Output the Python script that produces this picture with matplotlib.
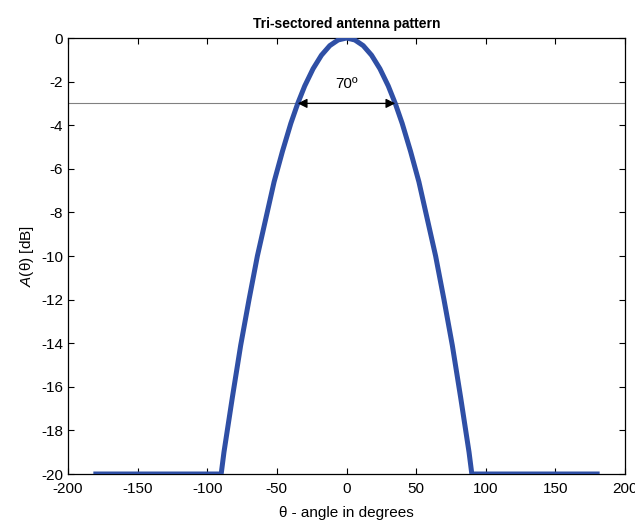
import matplotlib
matplotlib.use("Agg")
import matplotlib.pyplot as plt

plt.rcParams['font.family'] = ['Liberation Sans', 'DejaVu Sans']
plt.rcParams['mathtext.fontset'] = 'custom'
plt.rcParams['mathtext.it'] = 'Liberation Sans:italic'
plt.rcParams['mathtext.rm'] = 'Liberation Sans'
plt.rcParams['axes.unicode_minus'] = False

# Antenna gain samples (degrees, dB)
theta = [-180, -90, -88, -82, -76, -70, -64, -58, -52, -46, -40, -35, -30,
         -24, -18, -12, -6, 0, 6, 12, 18, 24, 30, 35, 40, 46, 52,
         58, 64, 70, 76, 82, 88, 90, 180]
gain = [-20.0, -20.0, -19.0, -16.5, -14.1, -12.0, -10.0, -8.3, -6.6,
        -5.2, -3.92, -3.0, -2.20, -1.41, -0.79, -0.35, -0.09, 0.0, -0.09,
        -0.35, -0.79, -1.41, -2.20, -3.0, -3.92, -5.2, -6.6, -8.3, -10.0,
        -12.0, -14.1, -16.5, -19.0, -20.0, -20.0]
half_power = -3.0
beam_edges = [-35, 35]
beam_label = "70º"

fig = plt.figure(figsize=(6.35, 5.23), dpi=100)
ax = fig.add_axes([68/635, 49/523, 557/635, 436/523])

ax.axhline(half_power, color='#808080', lw=0.8, zorder=1)
ax.plot(theta, gain, color='#2f4fa5', lw=3.6, zorder=3, clip_on=True)
ax.annotate('', xy=(beam_edges[0], half_power), xytext=(beam_edges[1], half_power),
            arrowprops=dict(arrowstyle='<|-|>', color='black', lw=0.9,
                            mutation_scale=14, shrinkA=0, shrinkB=0), zorder=4)
ax.text(0, -2.1, beam_label, ha='center', va='center', fontsize=11)

ax.set_xlim(-200, 200)
ax.set_ylim(-20, 0)
ax.set_xticks(range(-200, 201, 50))
ax.set_yticks(range(-20, 1, 2))
ax.tick_params(direction='in', top=True, right=True, labelsize=11, length=4, width=0.8)
ax.tick_params(axis='x', pad=6)
for s in ax.spines.values():
    s.set_linewidth(0.9)

ax.set_title('Tri-sectored antenna pattern', fontsize=10, fontweight='bold', pad=7)
ax.set_xlabel('θ - angle in degrees', fontsize=11, labelpad=7)
ax.set_ylabel(r'$\it{A}$(θ) [dB]', fontsize=11, labelpad=4)

fig.savefig('out.png', dpi=100)
